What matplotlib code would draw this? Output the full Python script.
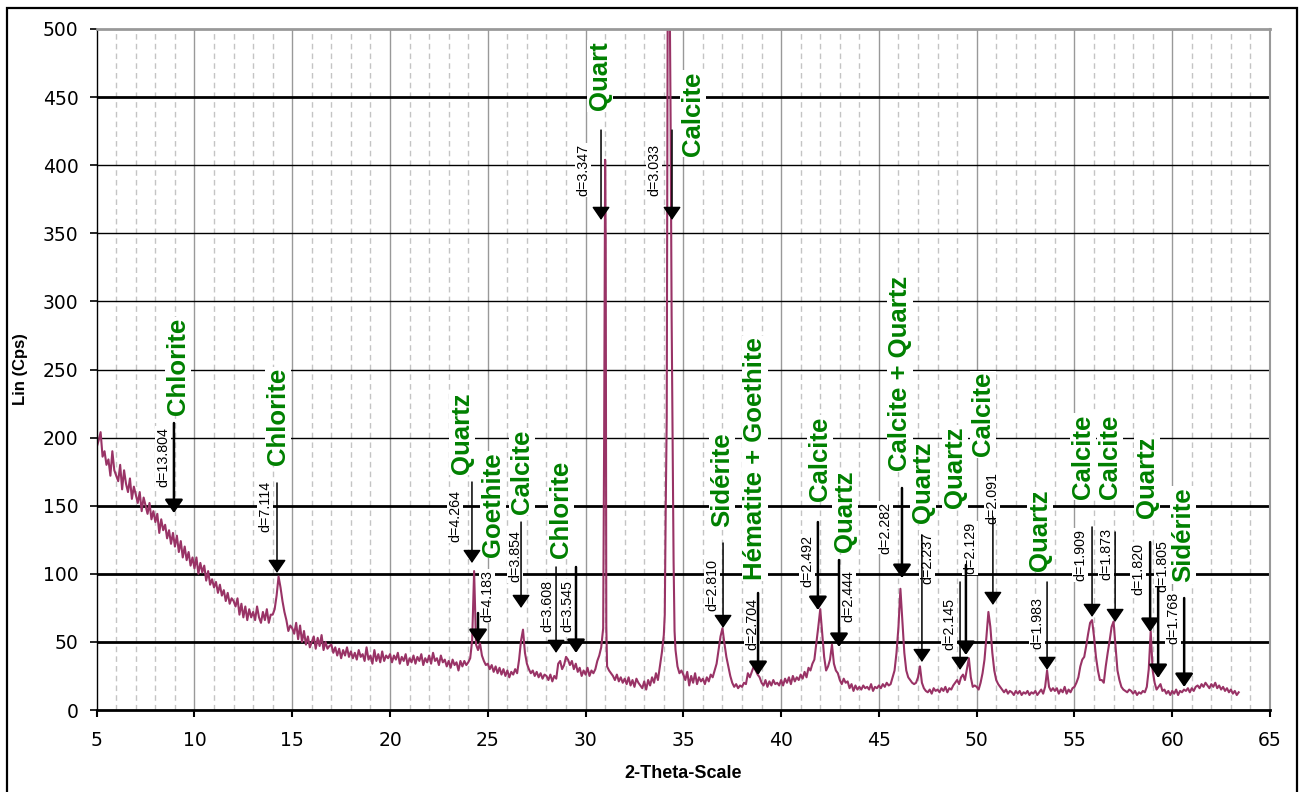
import numpy as np
import matplotlib
matplotlib.use("Agg")
import matplotlib.pyplot as plt
from matplotlib.patches import Rectangle

plt.rcParams['font.family'] = ['DejaVu Sans']

# scan counts, 0.1 deg steps from 5.0 to 63.4 (one row per degree)
counts = [
    193, 198, 204, 186, 190, 180, 184, 172, 190, 176,
    172, 168, 180, 162, 176, 166, 160, 170, 155, 164,
    158, 152, 160, 146, 156, 150, 144, 152, 140, 146,
    138, 144, 130, 140, 132, 136, 126, 132, 122, 130,
    120, 128, 116, 124, 112, 120, 110, 116, 106, 112,
    104, 112, 100, 108, 101, 106, 95, 102, 92, 96,
    90, 94, 86, 92, 84, 88, 80, 86, 78, 82,
    80, 76, 82, 70, 78, 68, 76, 66, 74, 68,
    72, 66, 76, 68, 64, 72, 66, 74, 64, 70,
    70, 74, 84, 98, 90, 80, 72, 66, 58, 62,
    60, 56, 64, 52, 62, 50, 58, 48, 54, 46,
    50, 54, 45, 53, 47, 55, 44, 50, 45, 47,
    48, 42, 46, 40, 45, 38, 44, 40, 46, 39,
    43, 38, 42, 37, 44, 39, 41, 36, 46, 37,
    40, 34, 44, 36, 41, 35, 43, 36, 40, 38,
    41, 35, 40, 37, 42, 34, 39, 36, 41, 33,
    38, 35, 40, 34, 39, 36, 41, 33, 38, 35,
    40, 34, 42, 36, 38, 33, 40, 35, 37, 32,
    36, 31, 37, 33, 35, 29, 36, 32, 36, 33,
    35, 38, 51, 102, 48, 44, 49, 40, 36, 33,
    34, 30, 33, 28, 32, 27, 31, 26, 30, 25,
    29, 24, 28, 26, 30, 27, 37, 51, 59, 42,
    34, 30, 27, 29, 25, 28, 24, 27, 23, 26,
    25, 22, 26, 21, 25, 23, 34, 36, 30, 33,
    39, 37, 33, 36, 30, 34, 28, 31, 25, 29,
    26, 31, 25, 29, 27, 30, 36, 40, 46, 60,
    404, 32, 29, 27, 25, 22, 26, 21, 24, 20,
    23, 19, 24, 18, 22, 17, 23, 20, 18, 16,
    21, 15, 22, 18, 24, 20, 27, 22, 32, 42,
    55, 150, 520, 530, 290, 110, 44, 32, 27, 29,
    26, 22, 28, 18, 25, 20, 27, 19, 24, 21,
    23, 19, 24, 21, 26, 24, 29, 34, 44, 54,
    60, 49, 39, 32, 25, 20, 17, 19, 16, 18,
    17, 20, 19, 27, 24, 28, 32, 29, 26, 24,
    20, 18, 22, 17, 21, 18, 22, 19, 20, 18,
    22, 18, 23, 20, 24, 19, 25, 21, 24, 22,
    26, 23, 28, 24, 31, 29, 34, 37, 49, 61,
    74, 56, 39, 29, 32, 37, 48, 34, 29, 27,
    22, 19, 23, 20, 21, 16, 19, 14, 18, 15,
    17, 15, 18, 16, 17, 15, 19, 14, 17, 16,
    18, 16, 19, 17, 20, 18, 19, 24, 29, 42,
    61, 89, 66, 42, 29, 24, 22, 20, 19, 20,
    24, 32, 20, 16, 14, 13, 15, 12, 16, 14,
    15, 13, 16, 14, 17, 13, 16, 15, 18, 20,
    22, 19, 24, 26, 22, 30, 38, 24, 17, 18,
    17, 15, 20, 27, 37, 54, 72, 61, 42, 29,
    22, 19, 17, 15, 13, 15, 12, 14, 13, 11,
    14, 12, 14, 11, 13, 12, 14, 11, 13, 12,
    14, 11, 13, 15, 12, 17, 29, 17, 14, 16,
    14, 16, 12, 15, 13, 17, 12, 15, 13, 16,
    17, 20, 24, 32, 37, 39, 47, 56, 64, 66,
    54, 39, 29, 22, 22, 20, 32, 42, 51, 61,
    65, 47, 29, 22, 17, 15, 14, 13, 15, 14,
    12, 14, 11, 13, 12, 14, 13, 17, 30, 58,
    29, 20, 15, 17, 19, 14, 15, 12, 14, 11,
    14, 12, 15, 11, 14, 13, 15, 14, 16, 13,
    16, 14, 17, 18, 16, 19, 17, 20, 18, 16,
    19, 17, 20, 16, 18, 15, 17, 14, 16, 13,
    15, 12, 14, 11, 13,
]
# extra points on the two sharp peaks
peak_x = [30.95, 31.03, 31.06, 34.05, 34.15, 34.25, 34.35, 34.45, 34.55]
peak_y = [200, 345, 62, 70, 215, 510, 430, 200, 58]

d_labels = ["d=13.804", "d=7.114", "d=4.264", "d=4.183", "d=3.854", "d=3.608",
            "d=3.545", "d=3.347", "d=3.033", "d=2.810", "d=2.704", "d=2.492",
            "d=2.444", "d=2.282", "d=2.237", "d=2.145", "d=2.129", "d=2.091",
            "d=1.983", "d=1.909", "d=1.873", "d=1.820", "d=1.805", "d=1.768"]
arrow_x = [8.95, 14.22, 24.19, 24.50, 26.70, 28.49, 29.51, 30.79, 34.42, 37.03, 38.82, 41.88,
           42.96, 46.18, 47.20, 49.15, 49.45, 50.83, 53.60, 55.90, 57.08, 58.87, 59.28, 60.61]
arrow_top = [210.7, 166.7, 167.4, 71.2, 138, 105, 105, 425.8, 425.8, 122.6, 85.9, 138,
             110.1, 163, 128.5, 94, 106.5, 141.7, 94, 134.4, 130.7, 123.3, 90.3, 82.2]
arrow_tip = [144.6, 100.6, 107.9, 49.2, 74.9, 41.9, 41.9, 359.8, 359.8, 60.2, 25.7, 73.4,
             46.3, 96.9, 35.2, 29.4, 40.4, 77.1, 29.4, 68.3, 64.6, 57.3, 23.5, 16.9]
d_label_x = [8.39, 13.61, 23.32, 24.96, 26.39, 28.03, 29.05, 29.87, 33.50, 36.47, 38.51, 41.32,
             43.42, 45.31, 47.46, 48.58, 49.66, 50.78, 53.09, 55.29, 56.61, 58.26, 59.48, 60.05]
d_label_y = [185.8, 149.8, 142.4, 83.7, 112.7, 76.4, 76.4, 396.5, 396.5, 91.8, 63.1, 109.4,
             83.7, 134, 111.6, 63.1, 118.9, 156, 64.2, 113.8, 114.9, 103.5, 105.7, 67.9]

phase_names = ["Chlorite", "Chlorite", "Quartz", "Goethite", "Calcite", "Chlorite", "Quart",
               "Calcite", "Sidérite", "Hématite + Goethite", "Calcite", "Quartz",
               "Calcite + Quartz", "Quartz", "Quartz", "Calcite", "Quartz", "Calcite",
               "Calcite", "Quartz", "Sidérite"]
phase_x = [9.16, 14.27, 23.68, 25.27, 26.75, 28.74, 30.74, 35.50, 36.98, 38.67, 41.98,
           43.27, 46.07, 47.26, 48.89, 50.32, 53.24, 55.44, 56.82, 58.72, 60.56]
phase_y = [252.2, 215.5, 203.4, 150.9, 175.1, 147.2, 465.5, 438, 169.2, 184.7, 184.7,
           146.1, 247.1, 167.4, 178.4, 217.3, 132.2, 186.1, 186.1, 170.7, 128.5]

thick_arrows = {"d=13.804", "d=4.183", "d=3.545", "d=2.704", "d=2.492", "d=2.444",
                "d=2.282", "d=2.129", "d=1.820", "d=1.805", "d=1.768"}

two_theta = np.round(5.0 + 0.1 * np.arange(len(counts)), 2)
x_all = np.concatenate([two_theta, peak_x])
y_all = np.concatenate([counts, peak_y])
order = np.argsort(x_all)
x_all = x_all[order]
y_all = y_all[order]

W, H = 1300, 792
fig = plt.figure(figsize=(13, 7.92), dpi=100)
ax = fig.add_axes([96.7 / W, 1 - 710 / H, (1270 - 96.7) / W, (710 - 29) / H])
ax.set_xlim(5, 65)
ax.set_ylim(0, 500)

# grid
for v in range(6, 65):
    if v % 5:
        ax.axvline(v, color='#c4c4c4', lw=1, ls=(0, (4, 3)), zorder=0.5)
    else:
        ax.axvline(v, color='#999999', lw=1, zorder=0.5)
for h in range(50, 500, 50):
    lw = 2 if h in (50, 100, 150, 450) else 1
    ax.axhline(h, color='black', lw=lw, zorder=0.6)

ax.plot(x_all, y_all, color='#993366', lw=1.5, zorder=2)

for i in range(len(d_labels)):
    lw = 1.8 if d_labels[i] in thick_arrows else 1.1
    ax.annotate('', xy=(arrow_x[i], arrow_tip[i]), xytext=(arrow_x[i], arrow_top[i]),
                arrowprops=dict(arrowstyle='-|>,head_length=0.8,head_width=0.55',
                                color='black', lw=lw, mutation_scale=10,
                                shrinkA=0, shrinkB=0), zorder=5)
    ax.text(d_label_x[i], d_label_y[i], d_labels[i], rotation=90, ha='center', va='center',
            fontsize=10.3, family='Liberation Sans', zorder=4,
            bbox=dict(facecolor='white', edgecolor='none', pad=0.5))

for i in range(len(phase_names)):
    ax.text(phase_x[i], phase_y[i], phase_names[i], rotation=90, ha='center', va='center',
            fontsize=18.5, fontweight='bold', color='#008000', family='Liberation Sans',
            zorder=4, bbox=dict(facecolor='white', edgecolor='none', pad=1))

ax.spines['left'].set_color('black')
ax.spines['left'].set_linewidth(1)
ax.spines['bottom'].set_linewidth(2)
ax.spines['top'].set_color('#999999')
ax.spines['top'].set_linewidth(2)
ax.spines['right'].set_color('#999999')
ax.spines['right'].set_linewidth(1.5)

ax.set_xticks(range(5, 70, 5))
ax.set_yticks(range(0, 550, 50))
ax.tick_params(axis='x', direction='out', length=5, width=1.5, pad=10, labelsize=13.5)
ax.tick_params(axis='y', direction='out', length=5, width=1.2, pad=8, labelsize=13.5)

fig.text(21 / W, 1 - 369.5 / H, "Lin (Cps)", rotation=90, ha='center', va='center',
         fontsize=12, fontweight='bold', family='Liberation Sans')
fig.text(683 / W, 1 - 773 / H, "2-Theta-Scale", ha='center', va='center',
         fontsize=13, fontweight='bold', family='Liberation Sans')

fig.patches.append(Rectangle((7 / W, -0.02), (1297 - 7) / W, 1 - 8 / H + 0.02,
                             transform=fig.transFigure, fill=False, edgecolor='black',
                             lw=1.6))

fig.savefig('out.png', dpi=100)
